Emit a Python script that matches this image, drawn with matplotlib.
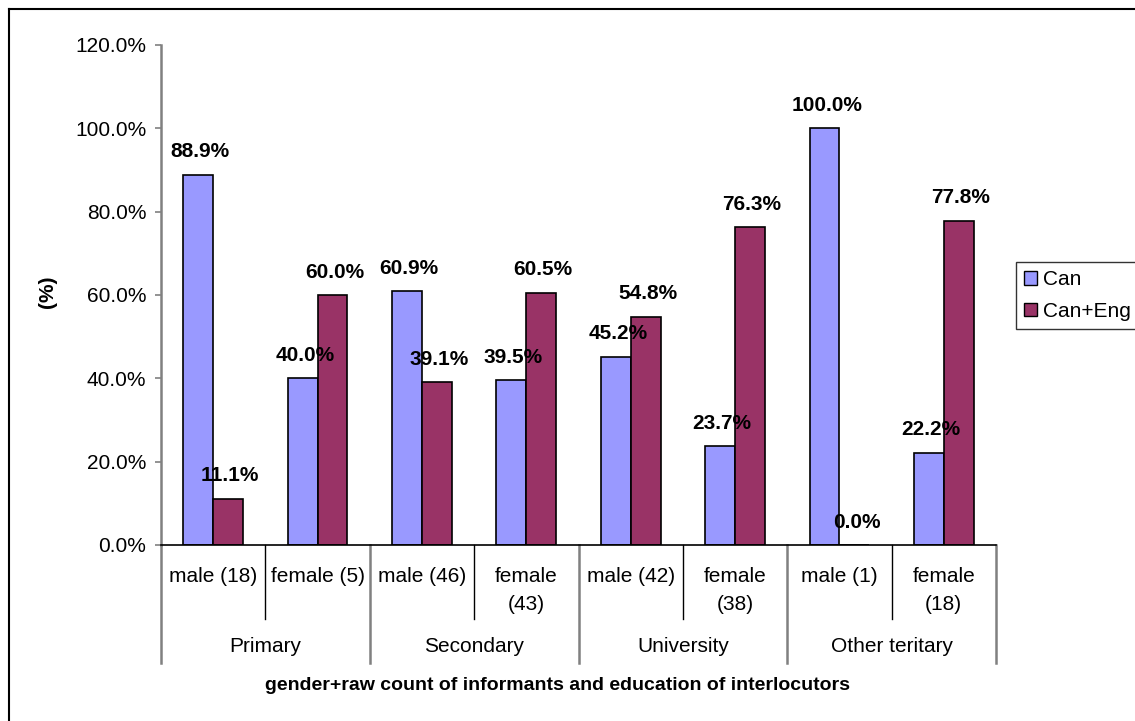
import matplotlib.pyplot as plt
from matplotlib.patches import Patch
from matplotlib.lines import Line2D
import numpy as np

plt.rcParams['font.family'] = ['Liberation Sans', 'DejaVu Sans']

groups = ['Primary', 'Secondary', 'University', 'Other teritary']
subcats = ['male (18)', 'female (5)', 'male (46)', 'female\n(43)',
           'male (42)', 'female\n(38)', 'male (1)', 'female\n(18)']
can = [88.9, 40.0, 60.9, 39.5, 45.2, 23.7, 100.0, 22.2]
can_eng = [11.1, 60.0, 39.1, 60.5, 54.8, 76.3, 0.0, 77.8]
series_names = ['Can', 'Can+Eng']
colors = ['#9999FF', '#993366']

W, H = 1135, 721
fig = plt.figure(figsize=(W / 100, H / 100), dpi=100)
# axes box in pixels: left 161, right 996, top 45, bottom 545
ax = fig.add_axes([161 / W, (H - 545) / H, (996 - 161) / W, (545 - 45) / H])

x = np.arange(len(subcats))
bw = 0.2857
b1 = ax.bar(x - bw / 2, can, bw, color=colors[0], edgecolor='black', linewidth=1.2)
b2 = ax.bar(x + bw / 2, can_eng, bw, color=colors[1], edgecolor='black', linewidth=1.2)

# data labels above bars
for bars, vals in [(b1, can), (b2, can_eng)]:
    for b, v in zip(bars, vals):
        ax.annotate(f"{v:.1f}%", xy=(b.get_x() + b.get_width() / 2 + 0.02, v),
                    xytext=(0, 16.5), textcoords='offset points',
                    ha='center', va='center', fontsize=15, fontweight='bold')

ax.set_xlim(-0.5, len(subcats) - 0.5)
ax.set_ylim(0, 120)
ax.set_yticks(np.arange(0, 121, 20))
ax.set_yticklabels([f"{v:.1f}%" for v in np.arange(0, 121, 20)], fontsize=15)
ax.tick_params(axis='y', direction='out', length=4.5, width=1.2, color='#808080', pad=6)
ax.set_xticks([])
ax.spines['top'].set_visible(False)
ax.spines['right'].set_visible(False)
ax.spines['left'].set_color('#808080')
ax.spines['left'].set_linewidth(1.8)
ax.spines['bottom'].set_color('black')
ax.spines['bottom'].set_linewidth(1.2)

tr = ax.get_xaxis_transform()
ah = 500.0  # axes height in px

# sub-category labels
for i, lab in enumerate(subcats):
    for j, line in enumerate(lab.split('\n')):
        ax.text(i, -(32 + 28 * j) / ah, line, transform=tr, ha='center', va='center',
                fontsize=15)

# group labels
for g, name in enumerate(groups):
    ax.text(2 * g + 0.5, -102 / ah, name, transform=tr, ha='center', va='center', fontsize=15)

# divider lines
for xd in [0.5, 2.5, 4.5, 6.5]:
    ax.plot([xd, xd], [0, -74 / ah], transform=tr, color='black', lw=1.0, clip_on=False)
for xd in [-0.5, 1.5, 3.5, 5.5, 7.5]:
    ax.plot([xd, xd], [0, -118 / ah], transform=tr, color='#808080', lw=1.8, clip_on=False)

ax.text(3.3, -141 / ah, 'gender+raw count of informants and education of interlocutors',
        transform=tr, ha='center', va='center', fontsize=14, fontweight='bold')

fig.text(48 / W, 1 - 292 / H, '(%)', rotation=90, ha='center', va='center',
         fontsize=15, fontweight='bold')

handles = [Patch(facecolor=c, edgecolor='black', label=n) for c, n in zip(colors, series_names)]
leg = fig.legend(handles=handles, loc='upper left', bbox_to_anchor=(1016 / W, 1 - 262 / H),
                 fontsize=15, frameon=True, fancybox=False, handlelength=0.6, handleheight=0.6,
                 handletextpad=0.3, borderpad=0.4, labelspacing=0.6, borderaxespad=0)
leg.get_frame().set_edgecolor('black')
leg.get_frame().set_linewidth(1.0)

# outer chart border (left and top)
fig.add_artist(Line2D([9 / W, 9 / W], [0, 1 - 9 / H], color='black', lw=1.5))
fig.add_artist(Line2D([9 / W, 1], [1 - 9 / H, 1 - 9 / H], color='black', lw=1.5))

fig.savefig('out.png', dpi=100)
